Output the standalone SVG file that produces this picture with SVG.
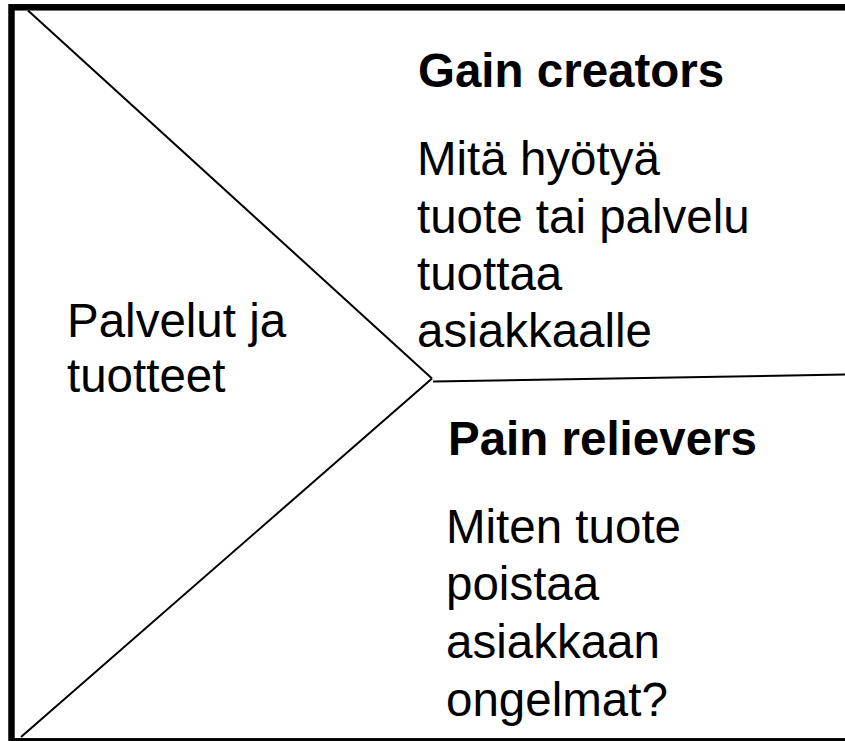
<svg xmlns="http://www.w3.org/2000/svg" width="845" height="741" viewBox="0 0 845 741">
<style>
.t{font-family:"Liberation Sans",Arial,sans-serif;font-size:47.5px;fill:#000}
.b{font-weight:bold}
.ln{stroke:#000;stroke-width:2;fill:none}
</style>
<rect width="845" height="741" fill="#fff"/>
<g id="frame"><rect x="11.5" y="7.3" width="850" height="734" fill="none" stroke="#000" stroke-width="6.5"/></g>
<g id="connectors">
<line class="ln" x1="28" y1="10.5" x2="432" y2="378.5"/>
<line class="ln" x1="432" y1="378.5" x2="21" y2="737"/>
<line class="ln" x1="433" y1="381.5" x2="845" y2="374.5"/>
</g>
<g id="products"><text class="t" x="67" y="337">Palvelut ja</text><text class="t" x="67" y="392">tuotteet</text></g>
<g id="gain"><text class="t b" x="418" y="87">Gain creators</text>
<text class="t" x="417" y="175">Mitä hyötyä</text><text class="t" x="417" y="233">tuote tai palvelu</text><text class="t" x="417" y="290">tuottaa</text><text class="t" x="417" y="347">asiakkaalle</text></g>
<g id="pain"><text class="t b" x="448" y="455">Pain relievers</text>
<text class="t" x="446" y="543">Miten tuote</text><text class="t" x="446" y="600">poistaa</text><text class="t" x="446" y="658">asiakkaan</text><text class="t" x="446" y="716">ongelmat?</text></g>
</svg>
